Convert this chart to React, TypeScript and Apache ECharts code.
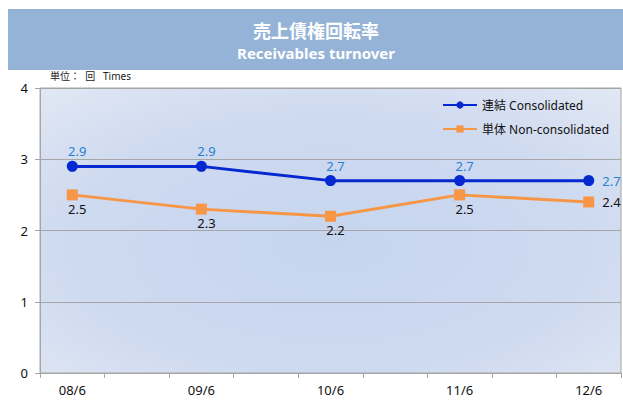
import React, { useEffect, useRef } from "react";
import * as echarts from "echarts";

const periods = ["08/6", "09/6", "10/6", "11/6", "12/6"];
const consolidated = [2.9, 2.9, 2.7, 2.7, 2.7];
const nonConsolidated = [2.5, 2.3, 2.2, 2.5, 2.4];
const yTicks = [0, 1, 2, 3, 4];
const titleJa = "売上債権回転率";
const titleEn = "Receivables turnover";
const unitText = "単位：  回   Times";
const seriesNames = ["連結 Consolidated", "単体 Non-consolidated"];

const FONT = "'Noto Sans', 'Noto Sans CJK JP', sans-serif";

function interleave<T>(arr: T[], filler: T): T[] {
  const out: T[] = [];
  arr.forEach((v, i) => {
    out.push(v);
    if (i < arr.length - 1) out.push(filler);
  });
  return out;
}

export default function App() {
  const ref = useRef<HTMLDivElement>(null);
  useEffect(() => {
    if (!ref.current) return;
    const chart = echarts.init(ref.current, null, { renderer: "svg" });
    const cats = interleave(periods, "");
    const lastIdx = cats.length - 1;
    const mk = (vals: number[], top: boolean) =>
      interleave<number | null>(vals, null).map((v, i) =>
        v === null
          ? null
          : {
              value: v,
              label:
                i === lastIdx
                  ? { position: "right", distance: 8 }
                  : { position: top ? "top" : "bottom", distance: top ? 3 : 2, offset: [5, 0] },
            }
      );
    chart.setOption({
      animation: false,
      textStyle: { fontFamily: FONT },
      graphic: [
        { type: "rect", shape: { x: 8, y: 9, width: 615, height: 61 }, style: { fill: "#95b3d7" }, silent: true },
        {
          type: "text",
          x: 316,
          y: 31,
          style: { text: titleJa, fill: "#fff", font: `bold 18px ${FONT}`, textAlign: "center", textVerticalAlign: "middle" },
        },
        {
          type: "text",
          x: 316,
          y: 53,
          style: { text: titleEn, fill: "#fff", font: `bold 15px ${FONT}`, textAlign: "center", textVerticalAlign: "middle" },
        },
        {
          type: "text",
          x: 50,
          y: 76,
          style: { text: unitText, fill: "#222", font: `10px ${FONT}`, textAlign: "left", textVerticalAlign: "middle" },
        },
      ],
      grid: {
        left: 40,
        right: 2,
        top: 88,
        bottom: 28,
        show: true,
        borderColor: "#a6a6a6",
        borderWidth: 1,
        backgroundColor: {
          type: "radial",
          x: 0.5,
          y: 0.55,
          r: 0.75,
          colorStops: [
            { offset: 0, color: "#c6d5ee" },
            { offset: 0.6, color: "#cedaf0" },
            { offset: 1, color: "#e2e8f4" },
          ],
        },
      },
      legend: {
        orient: "vertical",
        left: 437,
        top: 94,
        itemGap: 12,
        itemWidth: 34,
        itemHeight: 9,
        textStyle: { fontSize: 12, color: "#111", fontFamily: FONT },
        data: seriesNames,
      },
      xAxis: {
        type: "category",
        data: cats,
        boundaryGap: true,
        axisLine: { lineStyle: { color: "#a6a6a6" } },
        axisTick: { show: true, interval: 0, length: 5, lineStyle: { color: "#a6a6a6" } },
        axisLabel: { interval: 0, color: "#111", fontSize: 13, margin: 10, fontFamily: FONT },
        splitLine: { show: false },
      },
      yAxis: {
        type: "value",
        min: yTicks[0],
        max: yTicks[yTicks.length - 1],
        interval: 1,
        axisLine: { show: true, lineStyle: { color: "#a6a6a6" } },
        axisTick: { show: true, length: 5, lineStyle: { color: "#a6a6a6" } },
        axisLabel: { color: "#111", fontSize: 13, margin: 12, fontFamily: FONT },
        splitLine: { show: true, lineStyle: { color: "#a6a6a6" } },
      },
      series: [
        {
          name: seriesNames[0],
          type: "line",
          data: mk(consolidated, true),
          connectNulls: true,
          symbol: "circle",
          symbolSize: 11,
          itemStyle: { color: "#0528d0" },
          lineStyle: { color: "#0528d0", width: 3 },
          label: { show: true, color: "#2a7fd0", fontSize: 13, fontFamily: FONT },
        },
        {
          name: seriesNames[1],
          type: "line",
          data: mk(nonConsolidated, false),
          connectNulls: true,
          symbol: "rect",
          symbolSize: 11,
          itemStyle: { color: "#f79646" },
          lineStyle: { color: "#f79646", width: 3 },
          label: { show: true, color: "#111", fontSize: 13, fontFamily: FONT },
        },
      ],
    });
    return () => chart.dispose();
  }, []);
  return (
    <div
      ref={ref}
      style={{ position: "fixed", left: 0, top: 0, width: 623, height: 401, background: "#fff" }}
    />
  );
}
